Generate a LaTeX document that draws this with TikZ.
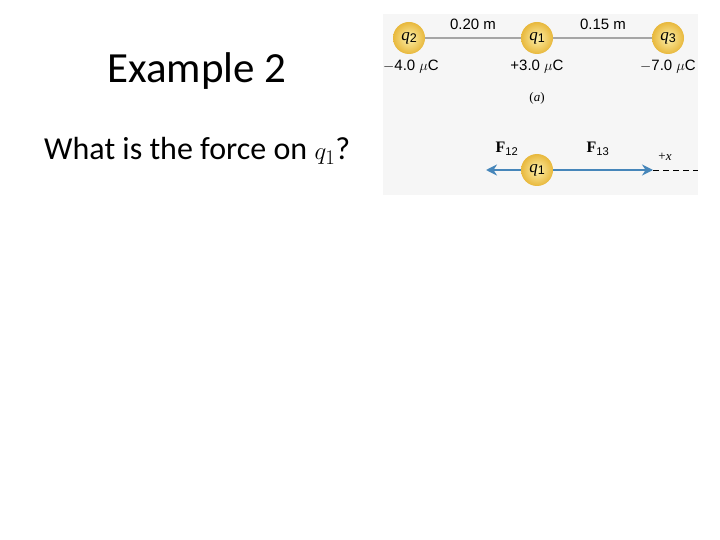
\documentclass[tikz,border=0pt]{standalone}
\usepackage{fontspec}
\setmainfont{Carlito}
\newfontfamily\figsans{Liberation Sans}
\newfontfamily\figserif{Liberation Serif}
\usetikzlibrary{arrows.meta}
\definecolor{panelbg}{RGB}{246,246,246}
\definecolor{arrowblue}{RGB}{70,134,186}
\definecolor{balllight}{RGB}{253,240,170}
\definecolor{balldark}{RGB}{232,184,60}
\newcommand{\ballsub}[1]{\raisebox{-2.5pt}{\figsans\upshape\fontsize{12.5}{12.5}\selectfont #1}}
\tikzset{
  ball/.style={circle, minimum size=32pt, inner sep=0pt, inner color=balllight, outer color=balldark, font=\figserif\itshape\fontsize{17}{17}\selectfont},
  lbl/.style={font=\figsans\fontsize{15}{15}\selectfont, inner sep=0pt},
  rod/.style={draw=gray!70, line width=1.2pt},
  force/.style={draw=arrowblue, line width=2.6pt, -{Stealth[length=11pt,width=11pt]}},
}
\begin{document}
\begin{tikzpicture}[x=1pt,y=-1pt]
\useasboundingbox (0,0) rectangle (720,540);
\fill[white] (0,0) rectangle (720,540);
\fill[panelbg] (383,14) rectangle (698,195);
% slide text
\node[font=\fontsize{43}{45}\selectfont, inner sep=0pt, anchor=base] (title) at (197,83) {Example 2};
\node[font=\fontsize{32}{34}\selectfont, inner sep=0pt, anchor=base west] (question) at (44,160) {What is the force on $q_1$?};
% top configuration
\node[ball] (q2) at (409,38) {q\ballsub{2}};
\node[ball] (q1) at (537,38) {q\ballsub{1}};
\node[ball] (q3) at (668,38) {q\ballsub{3}};
\draw[rod] (q2) -- (q1);
\draw[rod] (q1) -- (q3);
\node[lbl] (d21) at (473,24) {0.20 m};
\node[lbl] (d13) at (603,24) {0.15 m};
\node[lbl] (c2) at (411,67) {$-$4.0 $\mu$C};
\node[lbl] (c1) at (537,67) {+3.0 $\mu$C};
\node[lbl] (c3) at (668,67) {$-$7.0 $\mu$C};
\node[font=\figserif\fontsize{13}{13}\selectfont, inner sep=0pt] (cap) at (537,98) {(\textit{a})};
% force diagram
\node[ball] (q1b) at (537,170) {q\ballsub{1}};
\coordinate (leftend) at (486,170);
\coordinate (rightend) at (653,170);
\coordinate (axisend) at (698,170);
\draw[force] (q1b) -- (leftend);
\draw[force] (q1b) -- (rightend);
\draw[dashed, line width=0.8pt, dash pattern=on 6pt off 4pt] (rightend) -- (axisend);
\node[font=\figserif\bfseries\fontsize{16}{16}\selectfont, inner sep=0pt] (f12) at (507,149) {F\textsubscript{\figsans\mdseries 12}};
\node[font=\figserif\bfseries\fontsize{16}{16}\selectfont, inner sep=0pt] (f13) at (598,149) {F\textsubscript{\figsans\mdseries 13}};
\node[font=\figserif\fontsize{13}{13}\selectfont, inner sep=0pt] (xl) at (665,157) {+\textit{x}};
\end{tikzpicture}
\end{document}
